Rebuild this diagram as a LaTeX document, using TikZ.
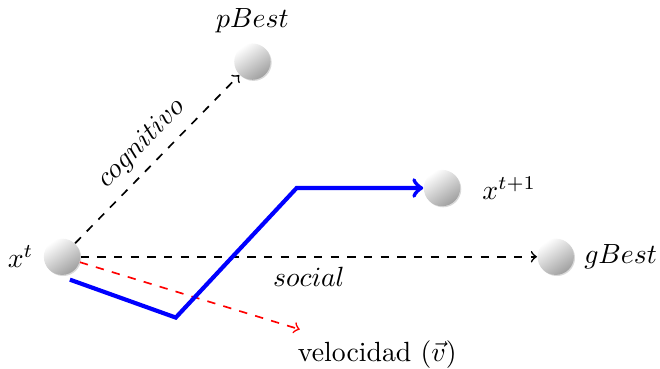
\documentclass[tikz,border=0pt]{standalone}
\usepackage{xcolor}
\usepackage{tikz}
\usetikzlibrary{shadows, positioning, calc}

\begin{document}
\begin{tikzpicture}[
    ball/.style={circle, top color=white, bottom color=gray!75, shading angle=35, minimum size=0.46cm, inner sep=0pt, drop shadow={opacity=0.3, shadow xshift=0.4pt, shadow yshift=-0.4pt}},
    guide/.style={->, dashed, semithick},
    move/.style={->, blue, line width=1.5pt},
]
\useasboundingbox (-0.785,-1.42) rectangle (7.57,3.25);

% Particles
\node[ball, label=left:$x^t$] (xt) at (0,0) {};
\node[ball, label=above:$pBest$] (pbest) at (2.41,2.47) {};
\node[ball, label={[label distance=0.15cm]right:$x^{t+1}$}] (xnext) at (4.81,0.87) {};
\node[ball, label=right:$gBest$] (gbest) at (6.25,0) {};

% Components
\draw[guide] (xt) -- node[midway, above, sloped] {$cognitivo$} (pbest);
\draw[guide] (xt) -- node[midway, below] {$social$} (gbest);

\coordinate (vend) at (3.01,-0.92);
\draw[guide, red] (xt) -- (vend);
\node[anchor=north west, inner sep=0pt] (vel) at ($(vend)+(-0.03,-0.14)$) {velocidad ($\vec{v}$)};

% Resulting movement
\coordinate (m0) at (0.10,-0.29);
\coordinate (m1) at (1.44,-0.77);
\coordinate (m2) at (2.97,0.87);
\draw[move] (m0) -- (m1) -- (m2) -- (xnext);

\end{tikzpicture}
\end{document}
